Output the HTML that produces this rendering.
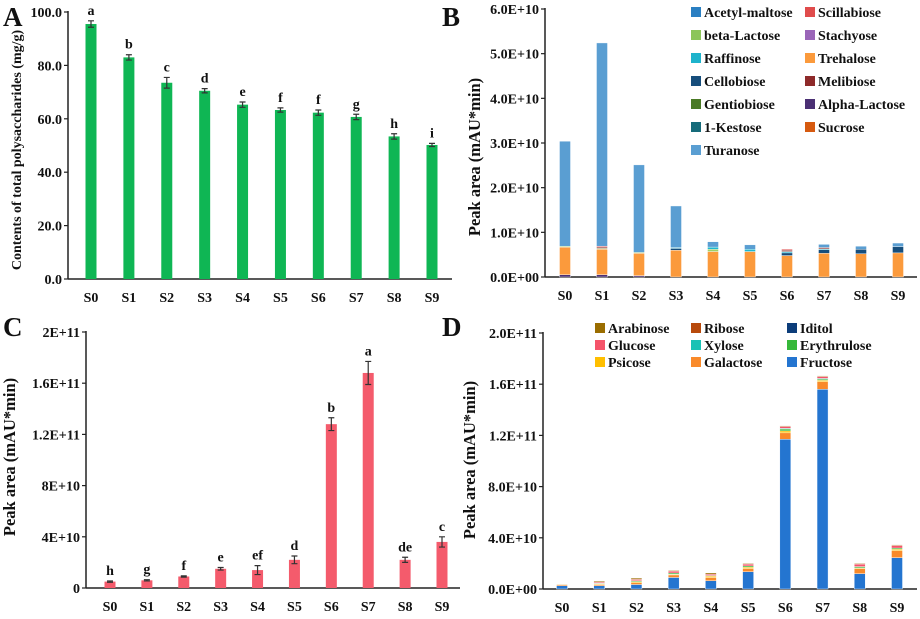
<!DOCTYPE html>
<html><head><meta charset="utf-8"><style>
body{margin:0;background:#fff}
svg{display:block;font-family:"Liberation Serif",serif;font-weight:bold}
</style></head><body>
<svg id="fig" width="920" height="619" viewBox="0 0 920 619"></svg>
<script>
const samples=["S0","S1","S2","S3","S4","S5","S6","S7","S8","S9"];
// Panel A
const aValues=[95.5,83,73.5,70.5,65.3,63.3,62.3,60.7,53.4,50.2];
const aErrors=[1.2,1.0,2.0,0.8,1.0,0.8,1.0,1.0,1.0,0.6];
const aLetters=["a","b","c","d","e","f","f","g","h","i"];
const aTicks=[0,20,40,60,80,100];
const aTickLabels=["0.0","20.0","40.0","60.0","80.0","100.0"];
// Panel B (units E10)
const bSeriesNames=["Alpha-Lactose","Trehalose","beta-Lactose","Cellobiose","Raffinose","Melibiose","Scillabiose","Turanose"];
const bAlpha=[0.05,0.05,0.03,0,0,0,0,0,0,0];
const bTrehalose=[0.62,0.57,0.5,0.6,0.57,0.57,0.48,0.53,0.52,0.54];
const bBeta=[0.02,0.02,0.02,0,0.05,0,0,0,0,0];
const bCellobiose=[0,0,0,0.04,0,0,0.06,0.08,0.1,0.14];
const bRaffinose=[0,0,0,0.02,0.05,0.05,0.03,0.02,0,0];
const bMelibiose=[0,0.03,0,0,0,0,0.03,0.03,0,0];
const bScillabiose=[0,0.02,0,0,0,0,0.02,0,0,0];
const bTuranose=[2.35,4.55,1.96,0.93,0.12,0.1,0,0.07,0.07,0.08];
const bTicks=[0,1,2,3,4,5,6];
const bTickLabels=["0.0E+00","1.0E+10","2.0E+10","3.0E+10","4.0E+10","5.0E+10","6.0E+10"];
// Panel C (units E10)
const cValues=[0.5,0.6,0.9,1.5,1.4,2.2,12.8,16.8,2.2,3.6];
const cErrors=[0.05,0.05,0.05,0.1,0.35,0.3,0.5,0.9,0.2,0.4];
const cLetters=["h","g","f","e","ef","d","b","a","de","c"];
const cTicks=[0,4,8,12,16,20];
const cTickLabels=["0","4E+10","8E+10","1.2E+11","1.6E+11","2E+11"];
// Panel D (units E10)
const dFructose=[0.25,0.25,0.35,0.9,0.65,1.35,11.7,15.6,1.2,2.45];
const dGalactose=[0.1,0.1,0.15,0.2,0.25,0.25,0.5,0.6,0.4,0.55];
const dPsicose=[0.03,0.05,0.08,0.05,0.1,0.1,0.15,0.1,0.05,0.1];
const dErythrulose=[0.02,0.05,0.07,0.1,0.05,0.1,0.15,0.1,0.1,0.1];
const dXylose=[0,0,0,0,0,0,0.05,0.05,0,0];
const dGlucose=[0.03,0.08,0.1,0.15,0.1,0.15,0.15,0.15,0.2,0.2];
const dArabinose=[0.02,0.07,0.1,0.05,0.1,0.05,0.05,0.05,0.05,0.05];
const dTicks=[0,4,8,12,16,20];
const dTickLabels=["0.0E+00","4.0E+10","8.0E+10","1.2E+11","1.6E+11","2.0E+11"];

const NS="http://www.w3.org/2000/svg";
const svg=document.getElementById('fig');
function mk(tag,attrs,parent,text){const e=document.createElementNS(NS,tag);for(const k in attrs)e.setAttribute(k,attrs[k]);if(text!==undefined)e.textContent=text;(parent||svg).appendChild(e);return e;}

function axes(g,ax,ticks,labels,name){
  mk('line',{x1:ax.x0,y1:ax.y0,x2:ax.x0,y2:ax.yTop-1,stroke:'#222','stroke-width':1.5},g);
  mk('line',{x1:ax.x0,y1:ax.y0,x2:ax.x1,y2:ax.y0,stroke:'#222','stroke-width':1.5},g);
  ticks.forEach((t,i)=>{const y=ax.y(t);
    mk('line',{x1:ax.x0-4,y1:y,x2:ax.x0,y2:y,stroke:'#222','stroke-width':1.2},g);
    const tl=mk('text',{x:ax.x0-6,y:y+5,'text-anchor':'end','font-size':14,fill:'#111'},g,labels[i]);
    
    
  });
  samples.forEach((s,i)=>{
    const tl=mk('text',{x:ax.x(i),y:ax.y0+23,'text-anchor':'middle','font-size':14,fill:'#111'},g,s);
    
    
  });
}
function mkAxis(x0,x1,y0,yTop,vmax,first,last){
  return {x0,x1,y0,yTop,y:v=>y0-(y0-yTop)*v/vmax,x:i=>first+(last-first)*i/9};
}
function ytitle(g,x,y,txt,name,fs){const t=mk('text',{x:0,y:0,transform:`translate(${x},${y}) rotate(-90)`,'text-anchor':'middle','font-size':fs,fill:'#111'},g,txt);
  }
function panelLabel(x,y,txt){const t=mk('text',{x,y,'font-size':27,fill:'#111'},svg,txt);
  }
function errBars(g,ax,vals,errs,letters,color,w,name){
  vals.forEach((v,i)=>{const cx=ax.x(i);
    const r=mk('rect',{x:cx-w/2,y:ax.y(v),width:w,height:ax.y0-ax.y(v),fill:color},g);
    
    
    const e=errs[i],yt=ax.y(v+e),yb=ax.y(v-e);
    mk('path',{d:`M${cx},${yt}V${yb}M${cx-3},${yt}H${cx+3}M${cx-3},${yb}H${cx+3}`,stroke:'#333','stroke-width':1.2,fill:'none'},g);
    const l=mk('text',{x:cx,y:yt-6,'text-anchor':'middle','font-size':14,fill:'#111'},g,letters[i]);
    
    
  });
}
function stacked(g,ax,series,colors,names,w,name){
  samples.forEach((s,i)=>{let acc=0;
    series.forEach((arr,k)=>{const v=arr[i];if(v<=0)return;
      const r=mk('rect',{x:ax.x(i)-w/2,y:ax.y(acc+v),width:w,height:ax.y(acc)-ax.y(acc+v),fill:colors[k],stroke:'#fff','stroke-width':0.4},g);
      
      
      acc+=v;});
  });
}
function legend(g,items,x0s,y0,dy,perCol,name){
  items.forEach((it,i)=>{const c=Math.floor(i/perCol),r=i%perCol;const x=x0s[c],y=y0+r*dy;
    const e=mk('g',{},g);
    
    
    mk('rect',{x:x,y:y-5,width:10,height:10,fill:it[1]},e);
    mk('text',{x:x+13,y:y+5,'font-size':14,fill:'#111'},e,it[0]);
  });
}

// Panel A
const gA=mk('g',{});
const axA=mkAxis(68,452,279,12,100,91,432);
axes(gA,axA,aTicks,aTickLabels,'panel-a');
errBars(gA,axA,aValues,aErrors,aLetters,'#0fb654',11,'panel-a');
ytitle(gA,21,150,'Contents of total polysaccharides (mg/g)','panel-a-y-axis-title',14);
panelLabel(3,26,'A');

// Panel B
const gB=mk('g',{});
const axB=mkAxis(545,917,277,9,6,565,898);
axes(gB,axB,bTicks,bTickLabels,'panel-b');
stacked(gB,axB,[bAlpha,bTrehalose,bBeta,bCellobiose,bRaffinose,bMelibiose,bScillabiose,bTuranose],
 ['#4b3074','#fb9a3c','#9fd06a','#174e7c','#20b8cf','#8e2a2a','#e04c4c','#5a9ed2'],bSeriesNames,11,'panel-b');
ytitle(gB,480,157,'Peak area (mAU*min)','panel-b-y-axis-title',16.5);
legend(gB,[['Acetyl-maltose','#2a7fc2'],['beta-Lactose','#8cc55a'],['Raffinose','#1eb3cc'],['Cellobiose','#174e7c'],['Gentiobiose','#4a7a25'],['1-Kestose','#166b7a'],['Turanose','#5a9ed2'],
 ['Scillabiose','#e04c4c'],['Stachyose','#9a65b8'],['Trehalose','#fb9a3c'],['Melibiose','#8e2a2a'],['Alpha-Lactose','#4b3074'],['Sucrose','#d65a10']],[691,805],12,23,7,'panel-b');
panelLabel(442,26,'B');

// Panel C
const gC=mk('g',{});
const axC=mkAxis(86,460,588,332,20,110,442);
axes(gC,axC,cTicks,cTickLabels,'panel-c');
errBars(gC,axC,cValues,cErrors,cLetters,'#f45b6c',11,'panel-c');
ytitle(gC,15,457,'Peak area (mAU*min)','panel-c-y-axis-title',16.5);
panelLabel(3,336,'C');

// Panel D
const gD=mk('g',{});
const axD=mkAxis(543,917,589,333,20,562,897);
axes(gD,axD,dTicks,dTickLabels,'panel-d');
stacked(gD,axD,[dFructose,dGalactose,dPsicose,dErythrulose,dXylose,dGlucose,dArabinose],
 ['#2475d0','#f98a2a','#ffbf00','#36b83a','#19c2b5','#f5546a','#9a6d00'],['Fructose','Galactose','Psicose','Erythrulose','Xylose','Glucose','Arabinose'],11,'panel-d');
ytitle(gD,475,460,'Peak area (mAU*min)','panel-d-y-axis-title',16.5);
legend(gD,[['Arabinose','#9a6d00'],['Glucose','#f5546a'],['Psicose','#ffbf00'],['Ribose','#b84a0c'],['Xylose','#19c2b5'],['Galactose','#f98a2a'],['Iditol','#0c3d7a'],['Erythrulose','#36b83a'],['Fructose','#2475d0']],[595,691,787],328,17,3,'panel-d');
panelLabel(442,336,'D');
</script>
</body></html>
